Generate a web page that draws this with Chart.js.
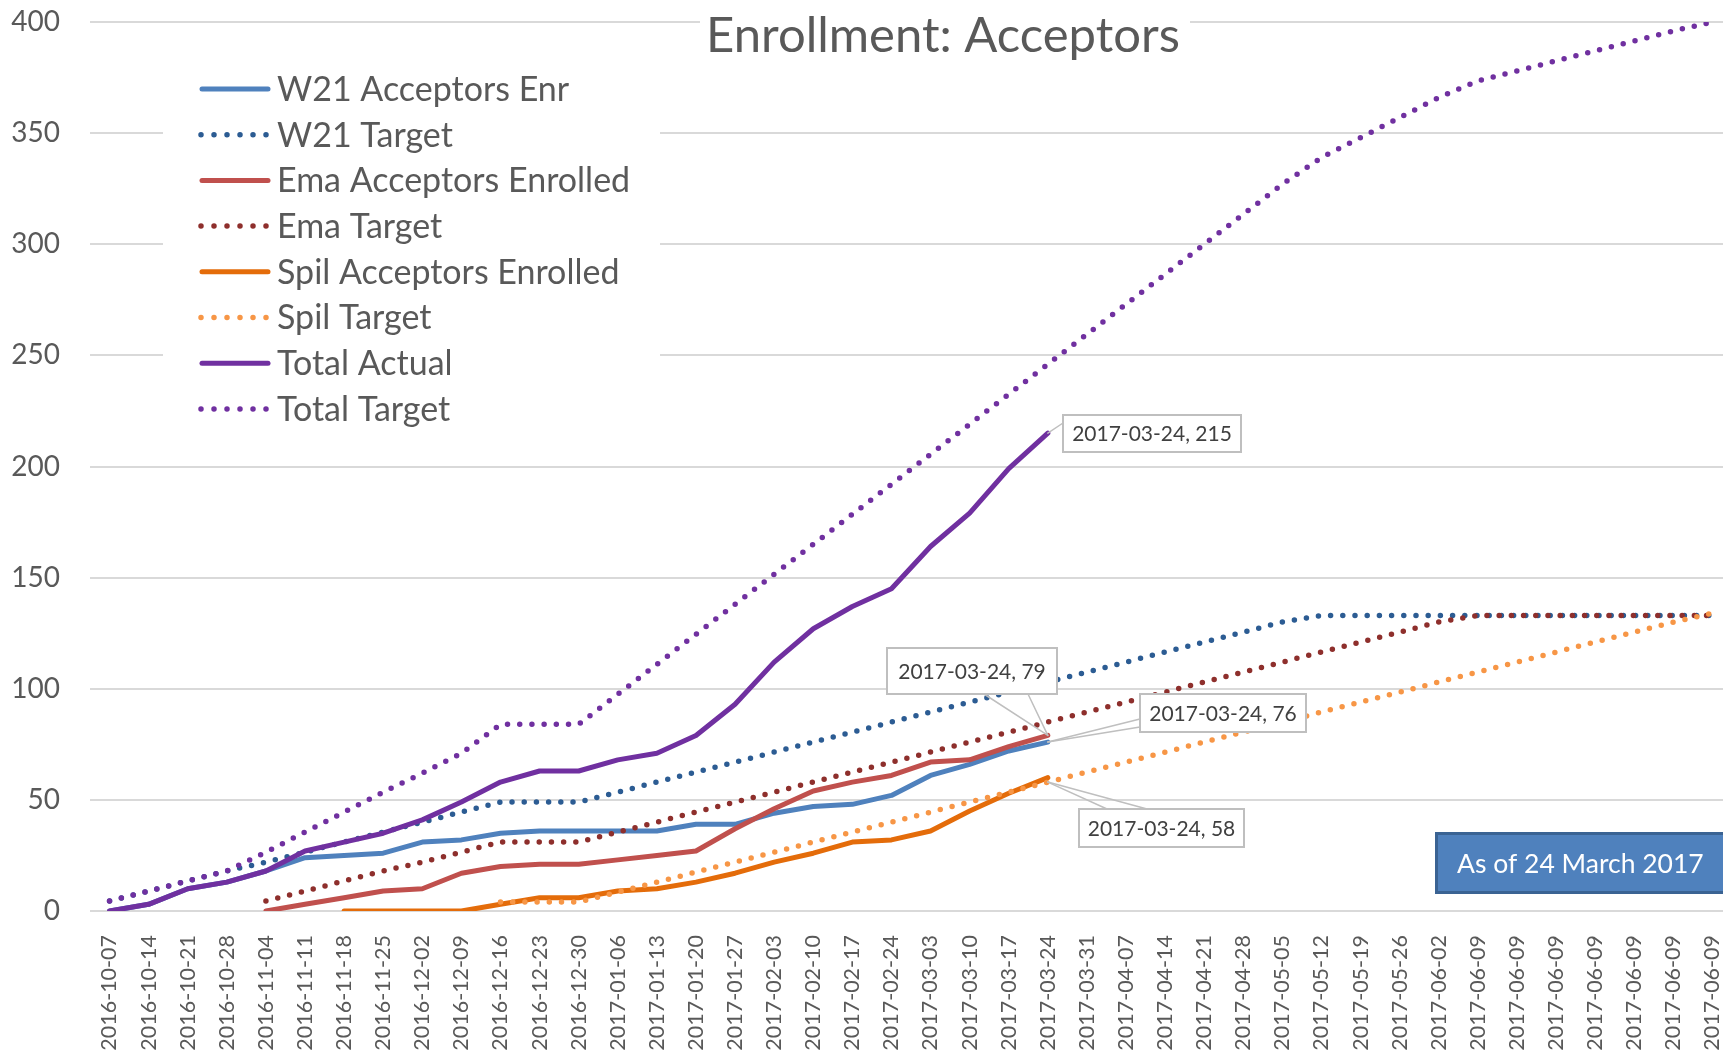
<!DOCTYPE html>
<html>
<head>
<meta charset="utf-8">
<title>Enrollment: Acceptors</title>
<script src="https://cdn.jsdelivr.net/npm/chart.js@4.4.1/dist/chart.umd.min.js"></script>
<style>
  html, body { margin: 0; padding: 0; background: #fff; overflow: hidden; }
  #wrap { width: 1723px; height: 1052px; overflow: hidden; }
</style>
</head>
<body>
<div id="wrap"><canvas id="myChart" width="1734" height="1052"></canvas></div>
<script>
// Week labels (last target week repeats in the source sheet)
const weeks = [
  "2016-10-07", "2016-10-14", "2016-10-21", "2016-10-28", "2016-11-04", "2016-11-11",
  "2016-11-18", "2016-11-25", "2016-12-02", "2016-12-09", "2016-12-16", "2016-12-23",
  "2016-12-30", "2017-01-06", "2017-01-13", "2017-01-20", "2017-01-27", "2017-02-03",
  "2017-02-10", "2017-02-17", "2017-02-24", "2017-03-03", "2017-03-10", "2017-03-17",
  "2017-03-24", "2017-03-31", "2017-04-07", "2017-04-14", "2017-04-21", "2017-04-28",
  "2017-05-05", "2017-05-12", "2017-05-19", "2017-05-26", "2017-06-02", "2017-06-09",
  "2017-06-09", "2017-06-09", "2017-06-09", "2017-06-09", "2017-06-09", "2017-06-09"
];

const w21Actual = [0, 3, 10, 13, 18, 24, 25, 26, 31, 32, 35, 36, 36, 36, 36, 39, 39, 44, 47, 48, 52, 61, 66, 72, 76];
const w21Target = [4.5, 9, 13.5, 18, 22, 26.5, 31, 35.5, 40, 44.5, 49, 49, 49, 53.5, 58, 62.5, 67, 71.5, 76, 80.5, 85,
  89.5, 94, 98.5, 103, 107.5, 112, 116.5, 121, 125.5, 130, 133, 133, 133, 133, 133, 133, 133, 133, 133, 133, 133];

const emaActual = [null, null, null, null, 0, 3, 6, 9, 10, 17, 20, 21, 21, 23, 25, 27, 37, 46, 54, 58, 61, 67, 68, 74, 79];
const emaTarget = [null, null, null, null, 4.5, 9, 13.5, 18, 22, 26.5, 31, 31, 31, 35.5, 40, 44.5, 49, 53.5, 58, 62.5, 67,
  71.5, 76, 80.5, 85, 89.5, 94, 98.5, 103, 107.5, 112, 116.5, 121, 125.5, 130, 133, 133, 133, 133, 133, 133, 133];

const spilActual = [null, null, null, null, null, null, 0, 0, 0, 0, 3, 6, 6, 9, 10, 13, 17, 22, 26, 31, 32, 36, 45, 53, 60];
const spilTarget = [null, null, null, null, null, null, null, null, null, null, 4, 4, 4, 8.5, 13, 17.5, 22, 26.5, 31, 35.5, 40,
  44.5, 49, 53.5, 58, 62.5, 67, 71.5, 76, 80.5, 85, 89.5, 94, 98.5, 103, 107.5, 112, 116.5, 121, 125.5, 130, 134];

const totalActual = [0, 3, 10, 13, 18, 27, 31, 35, 41, 49, 58, 63, 63, 68, 71, 79, 93, 112, 127, 137, 145, 164, 179, 199, 215];
const totalTarget = [4.5, 9, 13.5, 18, 26.5, 35.5, 44.5, 53.5, 62, 71, 84, 84, 84, 97.5, 111, 124.5, 138, 151.5, 165, 178.5, 192,
  205.5, 219, 232.5, 246, 259.5, 273, 286.5, 300, 313.5, 327, 339, 348, 357, 366, 373.5, 378, 382.5, 387, 391.5, 396, 400];

const yTicks = [0, 50, 100, 150, 200, 250, 300, 350, 400];

const titleText = "Enrollment: Acceptors";
const noteText = "As of 24 March 2017";

Chart.defaults.font.family = "Lato";

const DOT = [0, 12.2];

function line(label, data, color, dotted, order) {
  return {
    label,
    data,
    borderColor: color,
    backgroundColor: color,
    borderWidth: dotted ? 5.5 : 5,
    borderDash: dotted ? DOT : [],
    borderCapStyle: "round",
    borderJoinStyle: "round",
    pointRadius: 0,
    tension: 0,
    fill: false,
    order,
  };
}

const datasets = [
  line("W21 Acceptors Enr", w21Actual, "#4F81BD", false, 8),
  line("W21 Target", w21Target, "#2C5C93", true, 7),
  line("Ema Acceptors Enrolled", emaActual, "#C0504D", false, 6),
  line("Ema Target", emaTarget, "#8E2F2C", true, 5),
  line("Spil Acceptors Enrolled", spilActual, "#E46C0A", false, 4),
  line("Spil Target", spilTarget, "#F79646", true, 3),
  line("Total Actual", totalActual, "#7030A0", false, 2),
  line("Total Target", totalTarget, "#7030A0", true, 1),
];

// callout boxes: [x, y, w, h] and leader start points
const callouts = [
  { ds: 6, i: 24, box: [1063, 415, 178, 37], from: [[1063, 423]] },
  { ds: 2, i: 24, box: [887, 648, 170, 46], from: [[984, 694], [1028, 694]] },
  { ds: 0, i: 24, box: [1140, 694, 166, 38], from: [[1140, 719], [1140, 727]] },
  { ds: 5, i: 24, box: [1079, 809, 165, 38], from: [[1107, 809], [1147, 809]] },
];

const overlay = {
  id: "overlay",
  afterDatasetsDraw(chart) {
    const ctx = chart.ctx;
    const xs = chart.scales.x;
    const ys = chart.scales.y;
    ctx.save();

    // title
    ctx.fillStyle = "#fff";
    ctx.fillRect(700, 0, 490, 62);
    ctx.fillStyle = "#595959";
    ctx.font = "49px Lato";
    ctx.textAlign = "center";
    ctx.textBaseline = "middle";
    ctx.fillText(titleText, 943, 36);

    // legend
    ctx.fillStyle = "#fff";
    ctx.fillRect(163, 60, 497, 375);
    ctx.font = "34px Lato";
    ctx.textAlign = "left";
    datasets.forEach((d, k) => {
      const yy = 89 + 45.7 * k;
      ctx.strokeStyle = d.borderColor;
      ctx.lineWidth = d.borderWidth;
      ctx.lineCap = "round";
      ctx.setLineDash(d.borderDash.length ? [0, 13] : []);
      ctx.beginPath();
      if (d.borderDash.length) {
        ctx.moveTo(201, yy);
        ctx.lineTo(266.5, yy);
      } else {
        ctx.moveTo(202, yy);
        ctx.lineTo(268, yy);
      }
      ctx.stroke();
      ctx.setLineDash([]);
      ctx.fillStyle = "#595959";
      ctx.fillText(d.label, 277, yy + 1);
    });

    // data callouts
    ctx.font = "21px Lato";
    ctx.textAlign = "center";
    callouts.forEach((c) => {
      const v = datasets[c.ds].data[c.i];
      const ax = xs.getPixelForValue(c.i);
      const ay = ys.getPixelForValue(v);
      ctx.strokeStyle = "#BFBFBF";
      ctx.lineWidth = 1.5;
      c.from.forEach(([fx, fy]) => {
        ctx.beginPath();
        ctx.moveTo(fx, fy);
        ctx.lineTo(ax, ay);
        ctx.stroke();
      });
      const [bx, by, bw, bh] = c.box;
      ctx.fillStyle = "#fff";
      ctx.fillRect(bx, by, bw, bh);
      ctx.lineWidth = 2;
      ctx.strokeRect(bx, by, bw, bh);
      ctx.fillStyle = "#404040";
      ctx.fillText(`${weeks[c.i]}, ${Math.round(v)}`, bx + bw / 2, by + bh / 2 + 1);
    });

    // note box
    ctx.fillStyle = "#4F81BD";
    ctx.fillRect(1435, 832, 330, 62);
    ctx.strokeStyle = "#3A6393";
    ctx.lineWidth = 3;
    ctx.strokeRect(1436.5, 833.5, 330, 59);
    ctx.fillStyle = "#fff";
    ctx.font = "26.5px Lato";
    ctx.textAlign = "left";
    ctx.fillText(noteText, 1457, 864);

    ctx.restore();
  },
};

new Chart(document.getElementById("myChart"), {
  type: "line",
  data: { labels: weeks, datasets },
  options: {
    responsive: false,
    animation: false,
    layout: { padding: { top: 22, right: 2, left: 0, bottom: 0 } },
    plugins: {
      legend: { display: false },
      title: { display: false },
      tooltip: { enabled: false },
    },
    scales: {
      x: {
        offset: true,
        grid: { display: false },
        border: { display: false },
        ticks: {
          autoSkip: false,
          minRotation: 90,
          maxRotation: 90,
          padding: 16,
          color: "#595959",
          font: { size: 21.5 },
        },
        afterFit: (scale) => {
          scale.height = 141;
          scale.paddingLeft = 0;
          scale.paddingRight = 0;
        },
      },
      y: {
        min: 0,
        max: 400,
        afterBuildTicks: (scale) => { scale.ticks = yTicks.map((v) => ({ value: v })); },
        ticks: { padding: 30, color: "#595959", font: { size: 28 } },
        grid: { color: "#D9D9D9", lineWidth: 2, drawTicks: false },
        border: { display: false },
        afterFit: (scale) => {
          scale.width = 90;
          scale.paddingTop = 0;
          scale.paddingBottom = 0;
        },
      },
    },
  },
  plugins: [overlay],
});
</script>
</body>
</html>
